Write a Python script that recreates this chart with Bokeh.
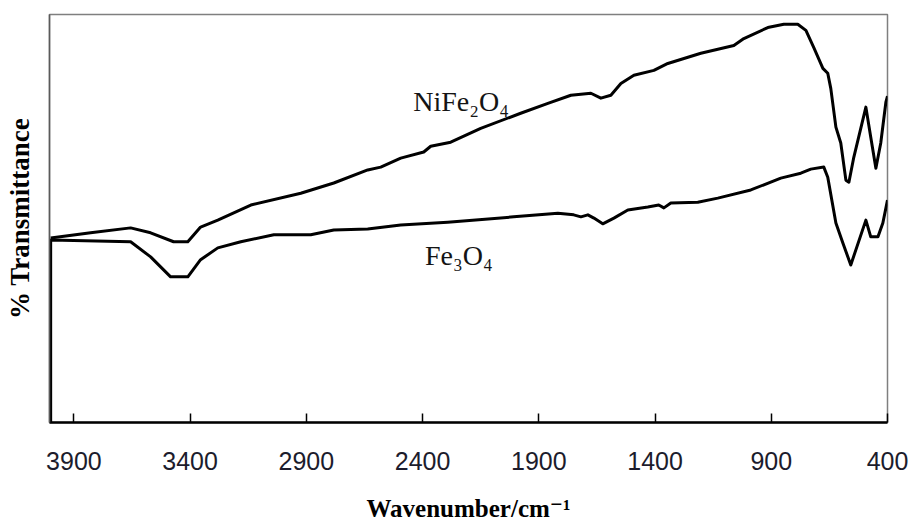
from bokeh.plotting import figure
from bokeh.models import Range1d, FixedTicker, Label, ColumnDataSource
from bokeh.embed import file_html
from bokeh.resources import INLINE

# ---- data ----
tick_values = [3900, 3400, 2900, 2400, 1900, 1400, 900, 400]

nife_wn = [4000, 3828, 3656, 3570, 3471, 3410, 3355, 3281, 3139, 2924, 2782, 2636, 2580,
           2494, 2395, 2365, 2279, 2150, 1978, 1861, 1762, 1676, 1633, 1590, 1547, 1491,
           1405, 1345, 1203, 1061, 1018, 915, 846, 786, 751, 717, 678, 657, 644, 622, 601,
           579, 566, 545, 493, 472, 450, 429, 407, 400]
nife_t = [45.2, 46.5, 47.7, 46.5, 44.3, 44.3, 47.9, 49.6, 53.3, 56.2, 58.7, 61.9, 62.6,
          64.8, 66.3, 67.7, 68.7, 72.1, 75.8, 78.2, 80.2, 80.7, 79.5, 80.2, 83.1, 85.1,
          86.3, 88.0, 90.5, 92.4, 94.1, 96.8, 97.6, 97.6, 96.1, 91.9, 86.8, 85.6, 81.9,
          72.4, 68.5, 59.4, 58.9, 65.0, 77.3, 69.9, 62.3, 68.5, 78.5, 80.0]

fe_wn = [4000, 4000, 3656, 3570, 3484, 3410, 3355, 3281, 3182, 3040, 2881, 2782, 2636,
         2494, 2292, 2008, 1818, 1750, 1719, 1689, 1663, 1625, 1577, 1517, 1431, 1384,
         1362, 1332, 1216, 1130, 988, 859, 773, 730, 674, 657, 622, 592, 558, 493, 472,
         441, 420, 400]
fe_t = [0.0, 44.7, 44.3, 40.6, 35.7, 35.7, 39.9, 42.8, 44.3, 46.0, 46.0, 47.2, 47.4,
        48.4, 49.1, 50.4, 51.3, 50.9, 50.4, 50.9, 50.1, 48.7, 50.1, 52.1, 52.8, 53.3,
        52.6, 53.8, 54.0, 55.0, 57.0, 59.9, 61.1, 62.1, 62.6, 60.1, 48.9, 44.0, 38.6,
        49.6, 45.5, 45.5, 48.9, 54.5]

series_names = ["NiFe\u2082O\u2084", "Fe\u2083O\u2084"]
x_title = "Wavenumber/cm\u207b\u00b9"
y_title = "% Transmittance"

SERIF = "Liberation Serif, DejaVu Serif, serif"

# ---- figure ----
p = figure(width=909, height=524,
           x_range=Range1d(4005, 400), y_range=Range1d(0, 100),
           output_backend="svg", toolbar_location=None,
           min_border_left=49, min_border_right=22,
           min_border_top=14, min_border_bottom=101)
p.background_fill_color = "white"
p.border_fill_color = "white"
p.grid.visible = False
p.outline_line_color = "#7f7f7f"
p.outline_line_width = 1.5

xa = p.xaxis[0]
xa.ticker = FixedTicker(ticks=tick_values)
xa.major_tick_in = 9
xa.major_tick_out = 0
xa.minor_tick_line_color = None
xa.major_tick_line_color = "black"
xa.major_tick_line_width = 1.5
xa.axis_line_color = "black"
xa.axis_line_width = 2.5
xa.major_label_text_font = "Liberation Sans"
xa.major_label_text_font_size = "25px"
xa.major_label_text_line_height = 1.0
xa.major_label_text_color = "#1c1c2c"
xa.major_label_standoff = 29
xa.axis_label = x_title
xa.axis_label_text_font = SERIF
xa.axis_label_text_font_style = "bold"
xa.axis_label_text_font_size = "25px"
xa.axis_label_text_line_height = 1.0
xa.axis_label_text_color = "black"
xa.axis_label_standoff = 22

ya = p.yaxis[0]
ya.ticker = FixedTicker(ticks=[])
ya.major_tick_in = 0
ya.major_tick_out = 0
ya.minor_tick_line_color = None
ya.major_label_text_font_size = "0px"
ya.major_label_standoff = 0
ya.axis_line_color = "#5a5a5a"
ya.axis_line_width = 1.5
ya.axis_label = y_title
ya.axis_label_text_font = SERIF
ya.axis_label_text_font_style = "bold"
ya.axis_label_text_font_size = "27px"
ya.axis_label_text_color = "black"
ya.axis_label_standoff = 15

src_ni = ColumnDataSource(dict(x=nife_wn, y=nife_t))
src_fe = ColumnDataSource(dict(x=fe_wn, y=fe_t))
p.line("x", "y", source=src_ni, line_color="black", line_width=3, line_join="round")
p.line("x", "y", source=src_fe, line_color="black", line_width=3, line_join="round")

p.add_layout(Label(x=2440, y=78.6, text=series_names[0], text_font=SERIF,
                   text_font_size="28px", text_color="#141414",
                   text_align="left", text_baseline="alphabetic"))
p.add_layout(Label(x=2390, y=41.0, text=series_names[1], text_font=SERIF,
                   text_font_size="28px", text_color="#141414",
                   text_align="left", text_baseline="alphabetic"))

open("out.html", "w").write(file_html(p, INLINE))
